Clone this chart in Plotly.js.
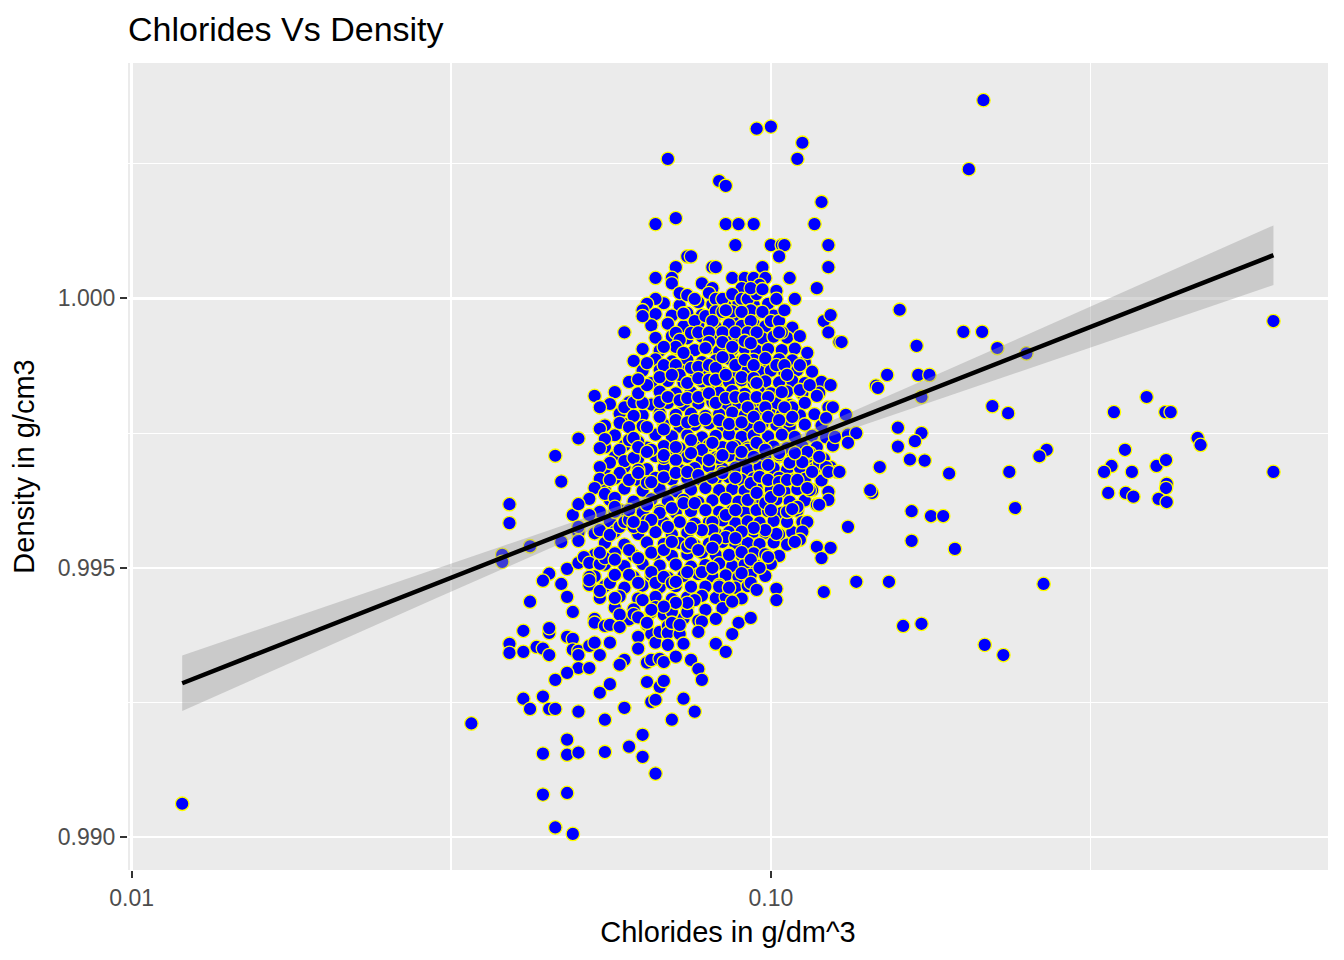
<!DOCTYPE html>
<html>
<head>
<meta charset="utf-8">
<script src="https://cdn.plot.ly/plotly-3.0.1.min.js"></script>
<style>
  body { margin: 0; background: #ffffff; }
  #chart { width: 1344px; height: 960px; }
</style>
</head>
<body>
<div id="chart"></div>
<script>
// chlorides (g/dm^3) and density (g/cm3): the readable points
var chlorides = [
  0.012, 0.034, 0.039, 0.039, 0.038, 0.038, 0.042, 0.047, 0.046, 0.050,
  0.049, 0.047, 0.048, 0.045, 0.044, 0.047, 0.048, 0.042, 0.049, 0.053,
  0.053, 0.055, 0.056, 0.058, 0.058, 0.061, 0.062, 0.065, 0.068, 0.070,
  0.074, 0.041, 0.045, 0.039, 0.039, 0.041, 0.043, 0.044, 0.045, 0.048,
  0.049, 0.049, 0.050, 0.050, 0.052, 0.053, 0.054, 0.056, 0.062, 0.062,
  0.064, 0.065, 0.066, 0.067, 0.069, 0.069, 0.069, 0.072, 0.073, 0.078,
  0.077, 0.089, 0.093, 0.087, 0.082, 0.085, 0.059, 0.058, 0.050, 0.052,
  0.048, 0.046, 0.064, 0.065, 0.067, 0.068, 0.071, 0.075, 0.077, 0.078,
  0.056, 0.054, 0.064, 0.067, 0.068, 0.041, 0.044, 0.042, 0.045, 0.046,
  0.050, 0.059, 0.055, 0.065, 0.066, 0.073, 0.076, 0.070, 0.048, 0.044,
  0.048, 0.050, 0.055, 0.060, 0.063, 0.063, 0.066, 0.044, 0.048, 0.046,
  0.049, 0.054, 0.055, 0.054, 0.058, 0.058, 0.059, 0.056, 0.054, 0.058,
  0.054, 0.056, 0.053, 0.055, 0.052, 0.050, 0.052, 0.050, 0.050, 0.054,
  0.050, 0.051, 0.052, 0.054, 0.055, 0.052, 0.052, 0.054, 0.056, 0.057,
  0.063, 0.056, 0.058, 0.059, 0.053, 0.054, 0.045, 0.057, 0.057, 0.060,
  0.061, 0.054, 0.060, 0.061, 0.061, 0.059, 0.061, 0.063, 0.062, 0.064,
  0.062, 0.062, 0.064, 0.095, 0.100, 0.112, 0.110, 0.069, 0.083, 0.085,
  0.120, 0.066, 0.071, 0.085, 0.089, 0.094, 0.117, 0.088, 0.100, 0.104,
  0.105, 0.123, 0.103, 0.074, 0.075, 0.071, 0.081, 0.082, 0.097, 0.123,
  0.066, 0.070, 0.070, 0.078, 0.087, 0.091, 0.094, 0.098, 0.107, 0.118,
  0.081, 0.090, 0.096, 0.072, 0.074, 0.076, 0.080, 0.082, 0.084, 0.087,
  0.090, 0.092, 0.095, 0.093, 0.097, 0.102, 0.102, 0.109, 0.066, 0.064,
  0.063, 0.063, 0.059, 0.073, 0.076, 0.079, 0.082, 0.087, 0.093, 0.097,
  0.084, 0.085, 0.090, 0.081, 0.093, 0.100, 0.103, 0.105, 0.104, 0.121,
  0.124, 0.123, 0.128, 0.114, 0.071, 0.072, 0.071, 0.068, 0.073, 0.075,
  0.077, 0.080, 0.080, 0.079, 0.084, 0.084, 0.087, 0.088, 0.092, 0.091,
  0.095, 0.093, 0.103, 0.064, 0.067, 0.068, 0.071, 0.072, 0.075, 0.077,
  0.080, 0.082, 0.084, 0.088, 0.091, 0.094, 0.098, 0.102, 0.105, 0.111,
  0.106, 0.062, 0.067, 0.070, 0.074, 0.077, 0.080, 0.082, 0.085, 0.090,
  0.094, 0.095, 0.104, 0.111, 0.115, 0.118, 0.124, 0.067, 0.069, 0.072,
  0.074, 0.077, 0.080, 0.082, 0.085, 0.088, 0.091, 0.095, 0.099, 0.092,
  0.098, 0.104, 0.108, 0.123, 0.125, 0.122, 0.131, 0.061, 0.105, 0.107,
  0.060, 0.064, 0.067, 0.068, 0.071, 0.074, 0.076, 0.079, 0.083, 0.086,
  0.090, 0.094, 0.096, 0.099, 0.103, 0.108, 0.126, 0.132, 0.136, 0.158,
  0.158, 0.061, 0.062, 0.065, 0.068, 0.071, 0.075, 0.078, 0.081, 0.083,
  0.087, 0.092, 0.095, 0.098, 0.103, 0.107, 0.115, 0.119, 0.122, 0.132,
  0.114, 0.112, 0.148, 0.064, 0.068, 0.071, 0.075, 0.080, 0.084, 0.090,
  0.094, 0.099, 0.103, 0.109, 0.119, 0.127, 0.116, 0.123, 0.060, 0.062,
  0.065, 0.068, 0.071, 0.074, 0.077, 0.081, 0.084, 0.088, 0.093, 0.096,
  0.099, 0.103, 0.106, 0.110, 0.115, 0.118, 0.123, 0.123, 0.114, 0.144,
  0.057, 0.060, 0.064, 0.067, 0.070, 0.073, 0.076, 0.079, 0.081, 0.085,
  0.088, 0.092, 0.095, 0.098, 0.100, 0.103, 0.100, 0.106, 0.106, 0.110,
  0.114, 0.112, 0.111, 0.119, 0.108, 0.102, 0.098, 0.094, 0.090, 0.085,
  0.081, 0.078, 0.075, 0.072, 0.069, 0.065, 0.063, 0.061, 0.050, 0.088,
  0.082, 0.132, 0.057, 0.060, 0.062, 0.065, 0.068, 0.070, 0.074, 0.075,
  0.077, 0.081, 0.086, 0.090, 0.093, 0.096, 0.099, 0.118, 0.124, 0.120,
  0.109, 0.052, 0.057, 0.060, 0.062, 0.065, 0.066, 0.068, 0.070, 0.071,
  0.074, 0.075, 0.078, 0.081, 0.083, 0.086, 0.087, 0.090, 0.093, 0.095,
  0.076, 0.074, 0.071, 0.068, 0.065, 0.064, 0.070, 0.072, 0.102, 0.102,
  0.121, 0.136, 0.153, 0.159, 0.200, 0.214, 0.129, 0.169, 0.226, 0.251,
  0.152, 0.170, 0.177, 0.146, 0.147, 0.172, 0.222, 0.235, 0.172, 0.168,
  0.270, 0.263, 0.165, 0.174, 0.128, 0.190, 0.236, 0.143, 0.215, 0.204,
  0.231, 0.216, 0.267, 0.172, 0.161, 0.194, 0.166, 0.166, 0.178, 0.186,
  0.241, 0.611, 0.387, 0.344, 0.414, 0.422, 0.465, 0.470, 0.358, 0.341,
  0.332, 0.367, 0.401, 0.415, 0.611, 0.337, 0.359, 0.369, 0.416, 0.415,
  0.404, 0.416
];

var density = [
  0.99062, 0.99211, 0.99618, 0.99583, 0.99524, 0.99511, 0.99540, 0.99660, 0.99708, 0.99740,
  0.99598, 0.99548, 0.99498, 0.99489, 0.99476, 0.99470, 0.99446, 0.99437, 0.99418, 0.99405,
  0.99398, 0.99392, 0.99394, 0.99413, 0.99390, 0.99414, 0.99408, 0.99418, 0.99413, 0.99418,
  0.99418, 0.99383, 0.99379, 0.99359, 0.99342, 0.99344, 0.99353, 0.99350, 0.99338, 0.99372,
  0.99368, 0.99348, 0.99346, 0.99338, 0.99355, 0.99361, 0.99338, 0.99361, 0.99372, 0.99350,
  0.99394, 0.99377, 0.99361, 0.99381, 0.99392, 0.99379, 0.99357, 0.99377, 0.99359, 0.99400,
  0.99381, 0.99398, 0.99407, 0.99377, 0.99359, 0.99344, 0.99329, 0.99320, 0.99314, 0.99314,
  0.99305, 0.99292, 0.99324, 0.99329, 0.99331, 0.99325, 0.99335, 0.99329, 0.99312, 0.99292,
  0.99284, 0.99268, 0.99288, 0.99279, 0.99290, 0.99257, 0.99261, 0.99238, 0.99238, 0.99238,
  0.99233, 0.99240, 0.99218, 0.99251, 0.99255, 0.99257, 0.99233, 0.99218, 0.99181, 0.99155,
  0.99153, 0.99157, 0.99158, 0.99168, 0.99190, 0.99149, 0.99118, 0.99079, 0.99082, 0.99018,
  0.99006, 0.99758, 0.99739, 0.99722, 0.99769, 0.99719, 0.99698, 0.99695, 0.99687, 0.99676,
  0.99665, 0.99663, 0.99648, 0.99637, 0.99628, 0.99618, 0.99598, 0.99565, 0.99550, 0.99570,
  0.99509, 0.99520, 0.99509, 0.99507, 0.99518, 0.99483, 0.99468, 0.99457, 0.99472, 0.99444,
  0.99440, 0.99561, 0.99576, 0.99585, 0.99819, 0.99798, 0.99388, 0.99630, 0.99604, 0.99589,
  0.99576, 0.99528, 0.99737, 0.99704, 0.99783, 0.99798, 0.99807, 0.99806, 0.99824, 0.99839,
  0.99734, 0.99682, 0.99658, 1.00315, 1.00319, 1.00289, 1.00259, 1.00259, 1.00218, 1.00209,
  1.00179, 1.00138, 1.00149, 1.00138, 1.00138, 1.00138, 1.00138, 1.00099, 1.00099, 1.00099,
  1.00099, 1.00099, 1.00078, 1.00078, 1.00078, 1.00058, 1.00058, 1.00058, 1.00058, 1.00058,
  1.00038, 1.00038, 1.00028, 1.00028, 1.00038, 1.00038, 1.00038, 1.00038, 1.00038, 1.00019,
  1.00019, 1.00019, 1.00025, 1.00010, 1.00006, 0.99999, 1.00010, 0.99999, 0.99999, 1.00008,
  0.99999, 0.99999, 1.00008, 1.00019, 1.00017, 1.00014, 0.99999, 0.99999, 0.99999, 0.99990,
  0.99978, 0.99967, 0.99937, 0.99972, 0.99958, 0.99967, 0.99976, 0.99976, 0.99978, 0.99975,
  0.99975, 0.99978, 0.99975, 0.99958, 0.99958, 0.99958, 0.99958, 0.99978, 0.99937, 0.99958,
  0.99969, 0.99937, 0.99919, 0.99899, 0.99936, 0.99923, 0.99910, 0.99910, 0.99899, 0.99936,
  0.99937, 0.99937, 0.99919, 0.99908, 0.99937, 0.99919, 0.99910, 0.99937, 0.99937, 0.99921,
  0.99937, 0.99917, 0.99937, 0.99880, 0.99867, 0.99876, 0.99876, 0.99858, 0.99871, 0.99873,
  0.99876, 0.99871, 0.99891, 0.99876, 0.99886, 0.99876, 0.99889, 0.99876, 0.99876, 0.99876,
  0.99858, 0.99850, 0.99854, 0.99858, 0.99843, 0.99852, 0.99849, 0.99849, 0.99858, 0.99854,
  0.99852, 0.99843, 0.99826, 0.99830, 0.99839, 0.99819, 0.99839, 0.99808, 0.99817, 0.99811,
  0.99815, 0.99817, 0.99824, 0.99806, 0.99815, 0.99817, 0.99815, 0.99817, 0.99817, 0.99798,
  0.99798, 0.99784, 0.99798, 0.99798, 0.99798, 0.99778, 0.99784, 0.99782, 0.99798, 0.99774,
  0.99761, 0.99761, 0.99780, 0.99757, 0.99774, 0.99770, 0.99774, 0.99776, 0.99774, 0.99767,
  0.99770, 0.99780, 0.99761, 0.99780, 0.99774, 0.99780, 0.99743, 0.99747, 0.99750, 0.99760,
  0.99725, 0.99741, 0.99724, 0.99719, 0.99704, 0.99724, 0.99737, 0.99719, 0.99732, 0.99704,
  0.99724, 0.99719, 0.99732, 0.99719, 0.99709, 0.99695, 0.99713, 0.99695, 0.99687, 0.99732,
  0.99715, 0.99696, 0.99687, 0.99715, 0.99709, 0.99700, 0.99713, 0.99700, 0.99709, 0.99715,
  0.99706, 0.99691, 0.99713, 0.99713, 0.99706, 0.99678, 0.99678, 0.99678, 0.99663, 0.99676,
  0.99659, 0.99668, 0.99676, 0.99678, 0.99672, 0.99667, 0.99676, 0.99667, 0.99657, 0.99669,
  0.99663, 0.99659, 0.99663, 0.99663, 0.99644, 0.99617, 0.99641, 0.99626, 0.99648, 0.99639,
  0.99613, 0.99607, 0.99617, 0.99602, 0.99611, 0.99620, 0.99620, 0.99607, 0.99585, 0.99598,
  0.99607, 0.99626, 0.99639, 0.99620, 0.99631, 0.99644, 0.99607, 0.99585, 0.99604, 0.99613,
  0.99585, 0.99567, 0.99552, 0.99617, 0.99609, 0.99563, 0.99570, 0.99574, 0.99567, 0.99557,
  0.99570, 0.99570, 0.99574, 0.99585, 0.99576, 0.99589, 0.99576, 0.99585, 0.99576, 0.99555,
  0.99552, 0.99576, 0.99515, 0.99533, 0.99518, 0.99528, 0.99533, 0.99548, 0.99539, 0.99546,
  0.99533, 0.99537, 0.99524, 0.99529, 0.99515, 0.99500, 0.99520, 0.99539, 0.99537, 0.99518,
  0.99548, 0.99477, 0.99487, 0.99487, 0.99472, 0.99492, 0.99472, 0.99483, 0.99472, 0.99474,
  0.99492, 0.99465, 0.99492, 0.99500, 0.99465, 0.99463, 0.99437, 0.99490, 0.99472, 0.99459,
  0.99440, 0.99435, 0.99435, 0.99428, 0.99422, 0.99398, 0.99398, 0.99394, 0.99461, 0.99440,
  0.99455, 0.99474, 0.99474, 0.99979, 0.99938, 0.99938, 0.99919, 0.99912, 0.99908, 0.99898,
  0.99858, 0.99858, 0.99858, 0.99838, 0.99834, 0.99817, 0.99800, 0.99787, 0.99750, 0.99735,
  0.99719, 0.99707, 0.99701, 0.99699, 0.99678, 0.99675, 0.99678, 0.99644, 1.00368, 1.00240,
  0.99338, 0.99357, 0.99470, 0.99396, 0.99392, 0.99535, 0.99550, 0.99605, 0.99596, 0.99596,
  0.99611, 0.99958, 0.99817, 0.99789, 0.99789, 0.99789, 0.99741, 0.99728, 0.99719, 0.99689,
  0.99678, 0.99678, 0.99689, 0.99700, 0.99678, 0.99639, 0.99639, 0.99632, 0.99656, 0.99648,
  0.99628, 0.99622
];

// the crowded core of the cloud, where single points cannot be told apart: estimated row by row
var coreChlorides = [
  0.068, 0.072, 0.077, 0.081, 0.085, 0.089, 0.094, 0.099,
  0.066, 0.070, 0.074, 0.078, 0.083, 0.088, 0.091, 0.096, 0.101,
  0.065, 0.069, 0.073, 0.077, 0.082, 0.086, 0.090, 0.094, 0.098, 0.103, 0.108,
  0.066, 0.070, 0.074, 0.078, 0.082, 0.086, 0.089, 0.093, 0.097, 0.101, 0.106, 0.111,
  0.063, 0.067, 0.071, 0.076, 0.080, 0.083, 0.087, 0.091, 0.095, 0.099, 0.104, 0.109,
  0.061, 0.066, 0.070, 0.074, 0.078, 0.082, 0.086, 0.090, 0.094, 0.098, 0.103, 0.108, 0.113,
  0.063, 0.068, 0.072, 0.076, 0.080, 0.084, 0.088, 0.092, 0.096, 0.100, 0.105, 0.110, 0.116,
  0.060, 0.065, 0.069, 0.073, 0.078, 0.082, 0.086, 0.090, 0.094, 0.098, 0.103, 0.108, 0.113, 0.120,
  0.057, 0.062, 0.067, 0.071, 0.075, 0.079, 0.083, 0.087, 0.091, 0.096, 0.100, 0.106, 0.112, 0.119,
  0.056, 0.060, 0.065, 0.069, 0.073, 0.077, 0.081, 0.085, 0.089, 0.093, 0.097, 0.102, 0.107, 0.113,
  0.058, 0.063, 0.067, 0.071, 0.075, 0.079, 0.083, 0.087, 0.091, 0.095, 0.100, 0.105, 0.111, 0.117,
  0.055, 0.059, 0.063, 0.068, 0.072, 0.076, 0.080, 0.084, 0.088, 0.092, 0.097, 0.102, 0.107, 0.113, 0.120,
  0.057, 0.061, 0.066, 0.070, 0.074, 0.078, 0.082, 0.086, 0.090, 0.094, 0.099, 0.104, 0.109, 0.116, 0.122,
  0.055, 0.059, 0.064, 0.068, 0.072, 0.076, 0.080, 0.084, 0.088, 0.092, 0.096, 0.101, 0.106, 0.112, 0.118, 0.125,
  0.057, 0.062, 0.066, 0.070, 0.074, 0.078, 0.082, 0.086, 0.090, 0.094, 0.098, 0.103, 0.108, 0.114, 0.121,
  0.055, 0.059, 0.064, 0.068, 0.072, 0.076, 0.080, 0.084, 0.088, 0.092, 0.096, 0.101, 0.106, 0.111, 0.117, 0.124,
  0.057, 0.062, 0.066, 0.070, 0.074, 0.078, 0.082, 0.086, 0.090, 0.094, 0.098, 0.103, 0.108, 0.113, 0.120,
  0.055, 0.059, 0.063, 0.067, 0.071, 0.075, 0.079, 0.083, 0.087, 0.091, 0.095, 0.100, 0.105, 0.110, 0.116,
  0.056, 0.061, 0.065, 0.069, 0.073, 0.077, 0.081, 0.085, 0.089, 0.093, 0.097, 0.102, 0.107, 0.113,
  0.054, 0.058, 0.063, 0.067, 0.071, 0.075, 0.079, 0.083, 0.087, 0.091, 0.095, 0.099, 0.104, 0.110,
  0.056, 0.060, 0.064, 0.068, 0.072, 0.076, 0.080, 0.084, 0.088, 0.092, 0.096, 0.101, 0.106, 0.112,
  0.053, 0.057, 0.062, 0.066, 0.070, 0.074, 0.078, 0.082, 0.086, 0.090, 0.094, 0.098, 0.103, 0.108,
  0.055, 0.059, 0.064, 0.068, 0.072, 0.076, 0.080, 0.084, 0.088, 0.092, 0.096, 0.101, 0.106,
  0.053, 0.057, 0.061, 0.066, 0.070, 0.074, 0.078, 0.082, 0.086, 0.090, 0.094, 0.098, 0.103,
  0.055, 0.059, 0.063, 0.067, 0.071, 0.075, 0.079, 0.083, 0.087, 0.091, 0.095, 0.100,
  0.053, 0.057, 0.061, 0.065, 0.069, 0.073, 0.077, 0.081, 0.085, 0.089, 0.093, 0.098,
  0.055, 0.059, 0.063, 0.067, 0.071, 0.075, 0.079, 0.083, 0.088, 0.092,
  0.054, 0.058, 0.062, 0.066, 0.070, 0.074, 0.078, 0.082, 0.085, 0.090,
  0.057, 0.061, 0.066, 0.070, 0.074, 0.079, 0.084,
  0.060, 0.064, 0.069, 0.073, 0.077, 0.082
];

var coreDensity = [
  0.99991, 0.99987, 0.99993, 0.99989, 0.99986, 0.99992, 0.99988, 0.99990,
  0.99971, 0.99968, 0.99973, 0.99969, 0.99972, 0.99967, 0.99970, 0.99974, 0.99968,
  0.99950, 0.99953, 0.99948, 0.99951, 0.99947, 0.99952, 0.99949, 0.99953, 0.99948, 0.99951, 0.99946,
  0.99927, 0.99930, 0.99926, 0.99929, 0.99931, 0.99925, 0.99928, 0.99932, 0.99926, 0.99929, 0.99927, 0.99930,
  0.99906, 0.99903, 0.99907, 0.99904, 0.99908, 0.99902, 0.99905, 0.99907, 0.99903, 0.99906, 0.99904, 0.99907,
  0.99884, 0.99887, 0.99883, 0.99886, 0.99882, 0.99885, 0.99888, 0.99884, 0.99886, 0.99883, 0.99887, 0.99885, 0.99882,
  0.99866, 0.99863, 0.99867, 0.99864, 0.99866, 0.99862, 0.99865, 0.99868, 0.99864, 0.99866, 0.99863, 0.99867, 0.99864,
  0.99845, 0.99843, 0.99847, 0.99844, 0.99846, 0.99842, 0.99845, 0.99848, 0.99843, 0.99846, 0.99844, 0.99847, 0.99843, 0.99845,
  0.99826, 0.99823, 0.99827, 0.99824, 0.99826, 0.99822, 0.99825, 0.99828, 0.99823, 0.99826, 0.99824, 0.99827, 0.99823, 0.99825,
  0.99804, 0.99807, 0.99803, 0.99806, 0.99802, 0.99805, 0.99808, 0.99804, 0.99806, 0.99803, 0.99807, 0.99805, 0.99802, 0.99806,
  0.99786, 0.99783, 0.99787, 0.99784, 0.99786, 0.99782, 0.99785, 0.99788, 0.99783, 0.99786, 0.99784, 0.99787, 0.99783, 0.99785,
  0.99764, 0.99767, 0.99763, 0.99766, 0.99762, 0.99765, 0.99768, 0.99764, 0.99766, 0.99763, 0.99767, 0.99765, 0.99762, 0.99766, 0.99764,
  0.99746, 0.99743, 0.99747, 0.99744, 0.99746, 0.99742, 0.99745, 0.99748, 0.99743, 0.99746, 0.99744, 0.99747, 0.99743, 0.99745, 0.99742,
  0.99724, 0.99727, 0.99723, 0.99726, 0.99722, 0.99725, 0.99728, 0.99724, 0.99726, 0.99723, 0.99727, 0.99725, 0.99722, 0.99726, 0.99724, 0.99727,
  0.99706, 0.99703, 0.99707, 0.99704, 0.99706, 0.99702, 0.99705, 0.99708, 0.99703, 0.99706, 0.99704, 0.99707, 0.99703, 0.99705, 0.99702,
  0.99684, 0.99687, 0.99683, 0.99686, 0.99682, 0.99685, 0.99688, 0.99684, 0.99686, 0.99683, 0.99687, 0.99685, 0.99682, 0.99686, 0.99684, 0.99687,
  0.99666, 0.99663, 0.99667, 0.99664, 0.99666, 0.99662, 0.99665, 0.99668, 0.99663, 0.99666, 0.99664, 0.99667, 0.99663, 0.99665, 0.99662,
  0.99644, 0.99647, 0.99643, 0.99646, 0.99642, 0.99645, 0.99648, 0.99644, 0.99646, 0.99643, 0.99647, 0.99645, 0.99642, 0.99646, 0.99644,
  0.99626, 0.99623, 0.99627, 0.99624, 0.99626, 0.99622, 0.99625, 0.99628, 0.99623, 0.99626, 0.99624, 0.99627, 0.99623, 0.99625,
  0.99604, 0.99607, 0.99603, 0.99606, 0.99602, 0.99605, 0.99608, 0.99604, 0.99606, 0.99603, 0.99607, 0.99605, 0.99602, 0.99606,
  0.99586, 0.99583, 0.99587, 0.99584, 0.99586, 0.99582, 0.99585, 0.99588, 0.99583, 0.99586, 0.99584, 0.99587, 0.99583, 0.99585,
  0.99564, 0.99567, 0.99563, 0.99566, 0.99562, 0.99565, 0.99568, 0.99564, 0.99566, 0.99563, 0.99567, 0.99565, 0.99562, 0.99566,
  0.99546, 0.99543, 0.99547, 0.99544, 0.99546, 0.99542, 0.99545, 0.99548, 0.99543, 0.99546, 0.99544, 0.99547, 0.99543,
  0.99524, 0.99527, 0.99523, 0.99526, 0.99522, 0.99525, 0.99528, 0.99524, 0.99526, 0.99523, 0.99527, 0.99525, 0.99522,
  0.99506, 0.99503, 0.99507, 0.99504, 0.99506, 0.99502, 0.99505, 0.99508, 0.99503, 0.99506, 0.99504, 0.99507,
  0.99484, 0.99487, 0.99483, 0.99486, 0.99482, 0.99485, 0.99488, 0.99484, 0.99486, 0.99483, 0.99487, 0.99485,
  0.99466, 0.99463, 0.99467, 0.99464, 0.99466, 0.99462, 0.99465, 0.99468, 0.99463, 0.99466,
  0.99444, 0.99447, 0.99443, 0.99446, 0.99442, 0.99445, 0.99448, 0.99444, 0.99446, 0.99443,
  0.99426, 0.99423, 0.99427, 0.99424, 0.99426, 0.99422, 0.99425,
  0.99404, 0.99407, 0.99403, 0.99406, 0.99402, 0.99405
];

// linear fit (density ~ log10 chlorides) and its 95% band
var fitX  = [0.012, 0.02, 0.03, 0.045, 0.06, 0.08, 0.1, 0.13, 0.18, 0.25, 0.35, 0.45, 0.611];
var fitY  = [0.992857, 0.993889, 0.994709, 0.995529, 0.996111, 0.996692, 0.997143,
             0.997674, 0.998332, 0.998996, 0.999676, 1.000184, 1.000802];
var fitLo = [0.992343, 0.993511, 0.994438, 0.995361, 0.996008, 0.996622, 0.997050,
             0.997524, 0.998101, 0.998679, 0.999271, 0.999712, 1.000249];
var fitHi = [0.993371, 0.994267, 0.994980, 0.995697, 0.996214, 0.996762, 0.997237,
             0.997824, 0.998563, 0.999313, 1.000081, 1.000656, 1.001355];

var xTicks = [0.01, 0.1];
var xTickText = ['0.01', '0.10'];
var yTicks = [0.990, 0.995, 1.000];
var yTickText = ['0.990', '0.995', '1.000'];

var FONT = 'Liberation Sans, Arial, sans-serif';

var points = {
  x: coreChlorides.concat(chlorides),
  y: coreDensity.concat(density),
  type: 'scatter',
  mode: 'markers',
  marker: {
    color: '#0000FF',
    size: 13.5,
    line: { color: '#FFFF00', width: 1.3 }
  },
  hoverinfo: 'skip'
};

var band = {
  x: fitX.concat(fitX.slice().reverse()),
  y: fitHi.concat(fitLo.slice().reverse()),
  type: 'scatter',
  mode: 'lines',
  fill: 'toself',
  fillcolor: 'rgba(153,153,153,0.4)',
  line: { width: 0 },
  hoverinfo: 'skip'
};

var fit = {
  x: fitX,
  y: fitY,
  type: 'scatter',
  mode: 'lines',
  line: { color: '#000000', width: 4.5 },
  hoverinfo: 'skip'
};

var axisCommon = {
  showgrid: true,
  gridcolor: '#FFFFFF',
  gridwidth: 2.2,
  zeroline: false,
  showline: false,
  ticks: 'outside',
  ticklen: 7,
  tickwidth: 2,
  tickcolor: '#333333',
  tickfont: { family: FONT, size: 23, color: '#4D4D4D' }
};

var layout = {
  width: 1344,
  height: 960,
  margin: { l: 128, r: 16, t: 63, b: 90 },
  paper_bgcolor: '#FFFFFF',
  plot_bgcolor: '#EBEBEB',
  showlegend: false,
  hovermode: false,
  title: {
    text: 'Chlorides Vs Density',
    font: { family: FONT, size: 34, color: '#000000' },
    x: 0, xref: 'paper', xanchor: 'left',
    y: 0.9698, yref: 'container', yanchor: 'middle'
  },
  xaxis: Object.assign({}, axisCommon, {
    type: 'log',
    range: [-2.0056, -0.1286],
    tickmode: 'array',
    tickvals: xTicks,
    ticktext: xTickText,
    minor: { tickvals: [0.0316, 0.316], showgrid: true, gridcolor: '#FFFFFF', gridwidth: 1.1, ticks: '' },
    title: { text: 'Chlorides in g/dm^3', font: { family: FONT, size: 29, color: '#000000' }, standoff: 12 }
  }),
  yaxis: Object.assign({}, axisCommon, {
    range: [0.98939, 1.00437],
    tickmode: 'array',
    tickvals: yTicks,
    ticktext: yTickText,
    minor: { tickvals: [0.9925, 0.9975, 1.0025], showgrid: true, gridcolor: '#FFFFFF', gridwidth: 1.1, ticks: '' },
    title: { text: 'Density in g/cm3', font: { family: FONT, size: 29, color: '#000000' }, standoff: 14 }
  })
};

Plotly.newPlot('chart', [points, band, fit], layout, { displayModeBar: false, staticPlot: true });
</script>
</body>
</html>
